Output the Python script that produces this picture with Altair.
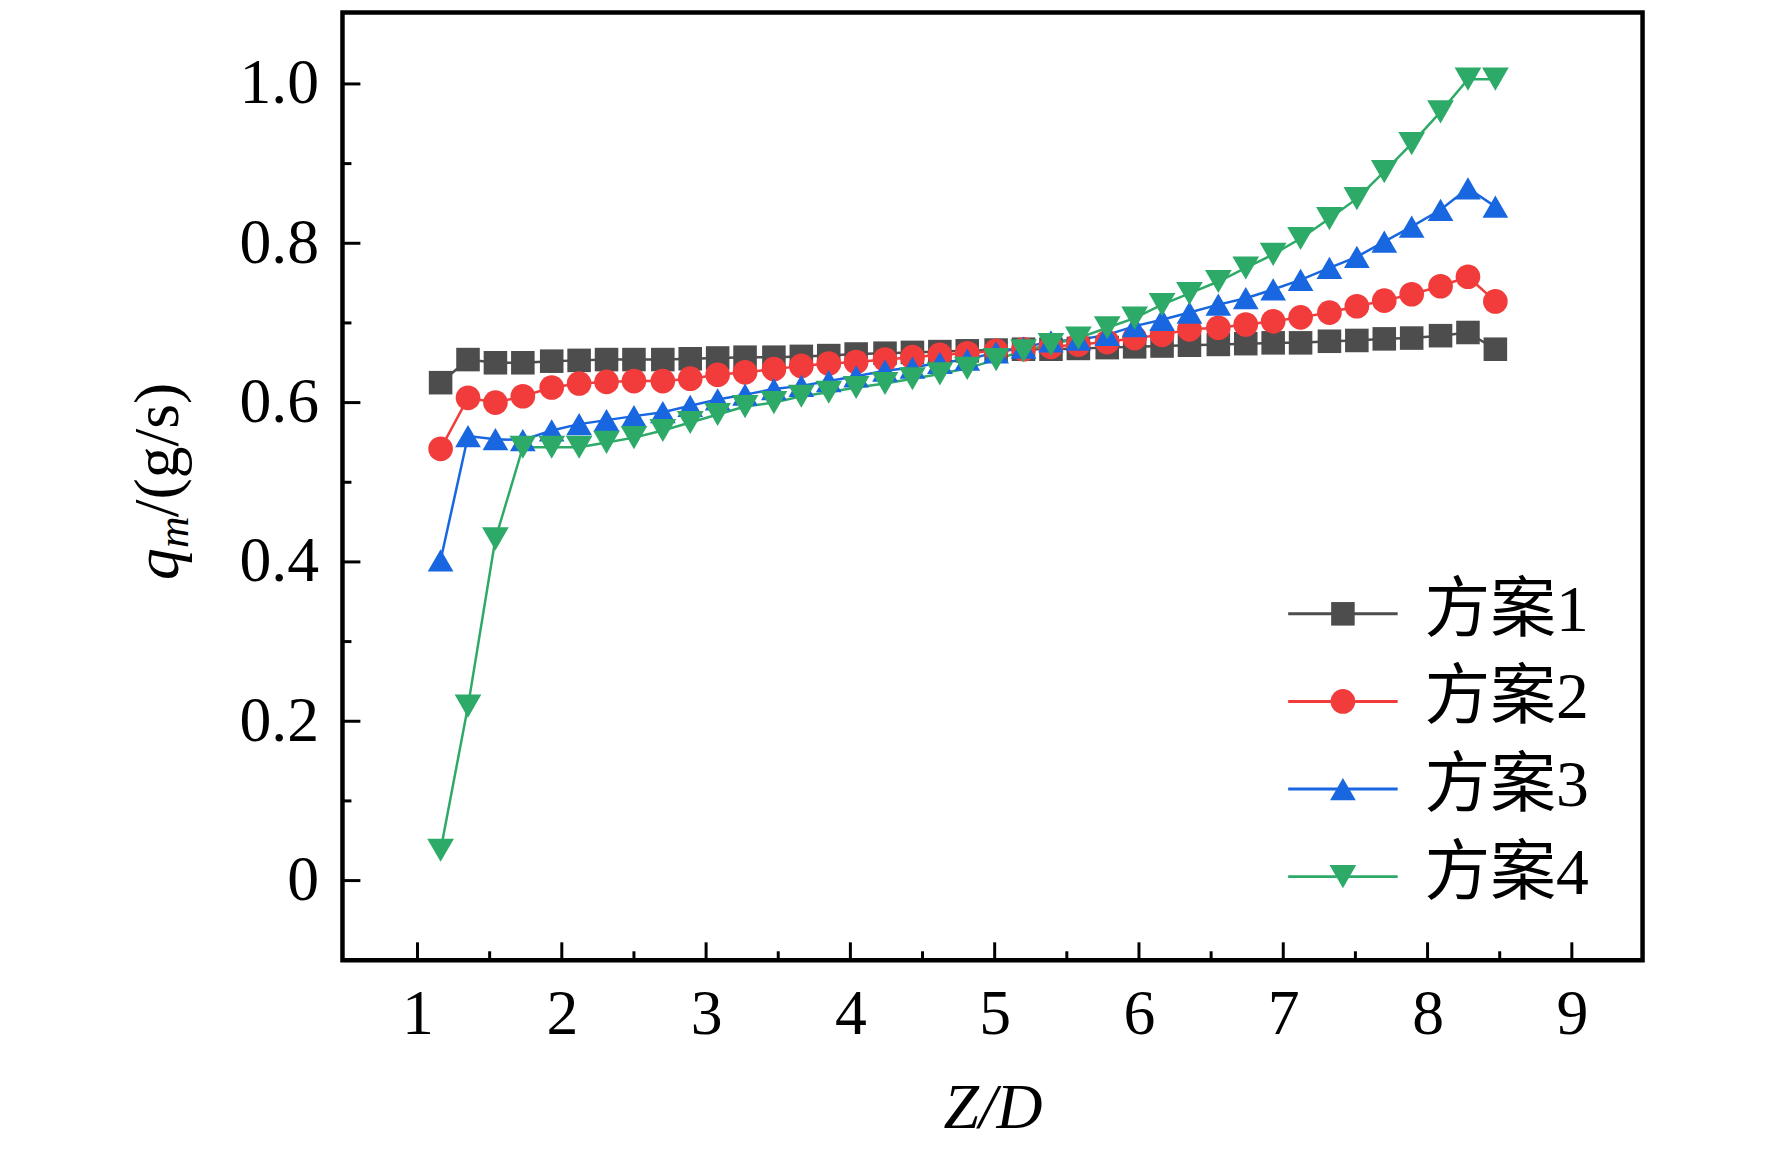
import altair as alt
import pandas as pd

# ---- data ----
zd = [1.16, 1.35, 1.54, 1.73, 1.93, 2.12, 2.31, 2.50, 2.70, 2.89,
      3.08, 3.27, 3.47, 3.66, 3.85, 4.04, 4.24, 4.43, 4.62, 4.81,
      5.01, 5.20, 5.39, 5.58, 5.78, 5.97, 6.16, 6.35, 6.55, 6.74,
      6.93, 7.12, 7.32, 7.51, 7.70, 7.89, 8.09, 8.28, 8.47]

s1 = [0.625, 0.654, 0.650, 0.650, 0.652, 0.653, 0.654, 0.654, 0.654, 0.655,
      0.656, 0.657, 0.657, 0.658, 0.659, 0.661, 0.662, 0.663, 0.664, 0.665,
      0.666, 0.667, 0.667, 0.668, 0.669, 0.670, 0.671, 0.672, 0.673, 0.674,
      0.675, 0.675, 0.677, 0.678, 0.680, 0.681, 0.684, 0.688, 0.667]

s2 = [0.542, 0.606, 0.600, 0.608, 0.619, 0.624, 0.626, 0.627, 0.627, 0.630,
      0.635, 0.638, 0.642, 0.646, 0.649, 0.651, 0.654, 0.657, 0.660, 0.662,
      0.665, 0.667, 0.670, 0.673, 0.676, 0.681, 0.685, 0.692, 0.694, 0.698,
      0.702, 0.707, 0.713, 0.721, 0.728, 0.736, 0.746, 0.758, 0.727]

s3 = [0.402, 0.558, 0.554, 0.553, 0.565, 0.573, 0.578, 0.583, 0.588, 0.596,
      0.604, 0.610, 0.617, 0.621, 0.627, 0.633, 0.640, 0.644, 0.650, 0.654,
      0.663, 0.669, 0.677, 0.679, 0.685, 0.696, 0.704, 0.713, 0.723, 0.731,
      0.742, 0.754, 0.769, 0.783, 0.802, 0.821, 0.842, 0.869, 0.846]

s4 = [0.038, 0.219, 0.429, 0.544, 0.544, 0.544, 0.550, 0.556, 0.565, 0.575,
      0.585, 0.595, 0.600, 0.608, 0.613, 0.619, 0.624, 0.630, 0.636, 0.643,
      0.654, 0.665, 0.673, 0.681, 0.694, 0.706, 0.723, 0.737, 0.752, 0.769,
      0.786, 0.806, 0.831, 0.856, 0.890, 0.925, 0.965, 1.006, 1.006]

names = ["方案1", "方案2", "方案3", "方案4"]
colors = ["#4d4d4d", "#f23c3c", "#1866e0", "#2daa68"]
shapes = ["square", "circle", "triangle-up", "triangle-down"]
sizes = [560, 720, 860, 860]

x_major = [1, 2, 3, 4, 5, 6, 7, 8, 9]
x_minor = [1.5, 2.5, 3.5, 4.5, 5.5, 6.5, 7.5, 8.5]
y_major = [0, 0.2, 0.4, 0.6, 0.8, 1.0]
y_minor = [0.1, 0.3, 0.5, 0.7, 0.9]

x_title = "Z/D"
y_title_parts = ["q", "m", "/(g/s)"]

# ---- build table ----
rows = []
for name, vals in zip(names, [s1, s2, s3, s4]):
    for xv, yv in zip(zd, vals):
        rows.append({"zd": xv, "qm": yv, "series": name})
df = pd.DataFrame(rows)
legend_df = pd.DataFrame({"series": names})

W, H = 1306, 952
FONT = "Liberation Serif"
FS = 64

xscale = alt.Scale(domain=[0.48, 9.49], nice=False, zero=False)
yscale = alt.Scale(domain=[-0.1, 1.0896], nice=False, zero=False)

x_enc = alt.X("zd:Q", scale=xscale, axis=alt.Axis(
    values=x_major, title=x_title, grid=False, domain=False, ticks=False,
    labelFont=FONT, labelFontSize=FS, labelColor="black", labelPadding=23,
    labelFlush=False, titleFont=FONT, titleFontSize=FS, titleFontStyle="italic",
    titleFontWeight="normal", titleColor="black", titleBaseline="alphabetic",
    titleY=168))
y_enc = alt.Y("qm:Q", scale=yscale, axis=alt.Axis(
    values=y_major, title=None, grid=False, domain=False, ticks=False,
    labelFont=FONT, labelFontSize=FS, labelColor="black", labelPadding=24,
    labelFlush=False,
    labelExpr="datum.value == 0 ? '0' : format(datum.value, '.1f')"))

color_enc = alt.Color("series:N", scale=alt.Scale(domain=names, range=colors), legend=None)
shape_enc = alt.Shape("series:N", scale=alt.Scale(domain=names, range=shapes), legend=None)
size_enc = alt.Size("series:N", scale=alt.Scale(domain=names, range=sizes), legend=None)

base = alt.Chart(df)
lines = base.mark_line(strokeWidth=2.5).encode(x=x_enc, y=y_enc, color=color_enc)
points = base.mark_point(filled=True, opacity=1).encode(
    x=x_enc, y=y_enc, color=color_enc, shape=shape_enc, size=size_enc)

# inward ticks (same fields as the data so the axes merge cleanly)
xt_major = alt.Chart(pd.DataFrame({"zd": x_major})).mark_rule(color="black", strokeWidth=3).encode(
    x=x_enc, y=alt.value(H), y2=alt.value(H - 18))
xt_minor = alt.Chart(pd.DataFrame({"zd": x_minor})).mark_rule(color="black", strokeWidth=3).encode(
    x=x_enc, y=alt.value(H), y2=alt.value(H - 9))
yt_major = alt.Chart(pd.DataFrame({"qm": y_major})).mark_rule(color="black", strokeWidth=3).encode(
    y=y_enc, x=alt.value(0), x2=alt.value(18))
yt_minor = alt.Chart(pd.DataFrame({"qm": y_minor})).mark_rule(color="black", strokeWidth=3).encode(
    y=y_enc, x=alt.value(0), x2=alt.value(9))

# y title: italic q, subscript italic m, then /(g/s)
t_q = alt.Chart(pd.DataFrame({"t": [y_title_parts[0]]})).mark_text(
    angle=270, align="left", baseline="alphabetic", font=FONT, fontSize=FS,
    fontStyle="italic", color="black").encode(x=alt.value(-165), y=alt.value(570), text="t:N")
t_m = alt.Chart(pd.DataFrame({"t": [y_title_parts[1]]})).mark_text(
    angle=270, align="left", baseline="alphabetic", font=FONT, fontSize=44,
    fontStyle="italic", color="black").encode(x=alt.value(-155), y=alt.value(538), text="t:N")
t_rest = alt.Chart(pd.DataFrame({"t": [y_title_parts[2]]})).mark_text(
    angle=270, align="left", baseline="alphabetic", font=FONT, fontSize=FS,
    color="black").encode(x=alt.value(-165), y=alt.value(507), text="t:N")

main = alt.layer(lines, points, xt_major, xt_minor, yt_major, yt_minor, t_q, t_m, t_rest)

# legend: rows placed by a point scale over the legend's own band
leg_y = alt.Y("series:N", axis=None, scale=alt.Scale(domain=names, range=[560, 912]))
lg = alt.Chart(legend_df)
leg_lines = lg.mark_rule(strokeWidth=3).encode(
    y=leg_y, x=alt.value(950), x2=alt.value(1060), color=color_enc)
leg_points = lg.mark_point(filled=True, opacity=1).encode(
    y=leg_y, x=alt.value(1005), color=color_enc, shape=shape_enc, size=size_enc)
leg_text = lg.mark_text(align="left", baseline="middle", dy=-3,
                        font=FONT + ", Noto Sans CJK SC",
                        fontSize=66, color="black").encode(
    y=leg_y, x=alt.value(1087), text="series:N")
legend = alt.layer(leg_lines, leg_points, leg_text)

chart = alt.layer(main, legend).resolve_scale(y="independent").properties(
    width=W, height=H,
    padding={"left": 336, "top": 2, "right": 122, "bottom": 180},
    autosize=alt.AutoSizeParams(type="none"),
    background="white",
).configure_view(stroke="black", strokeWidth=4.5)

chart.save("out.html", embed_options={"renderer": "svg", "actions": False})
